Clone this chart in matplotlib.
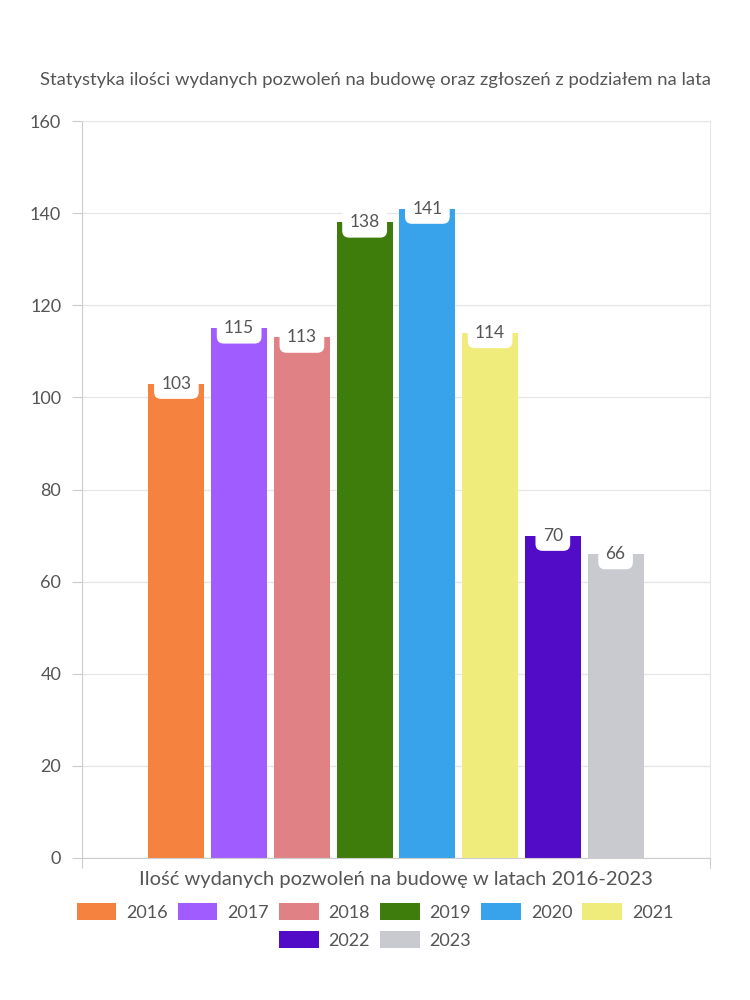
import matplotlib.pyplot as plt
from matplotlib.patches import Patch

years = ["2016", "2017", "2018", "2019", "2020", "2021", "2022", "2023"]
values = [103, 115, 113, 138, 141, 114, 70, 66]
colors = ["#F5833F", "#A05CFF", "#E08285", "#3E7D0B",
          "#38A2EA", "#F0EC7C", "#520BC6", "#C9CACF"]
yticks = [0, 20, 40, 60, 80, 100, 120, 140, 160]

title = "Statystyka ilości wydanych pozwoleń na budowę oraz zgłoszeń z podziałem na lata"
xlabel = "Ilość wydanych pozwoleń na budowę w latach 2016-2023"

plt.rcParams['font.family'] = ['Lato', 'DejaVu Sans']
txt = "#555555"
grid_c = "#e6e6e6"

fig = plt.figure(figsize=(7.5, 10), dpi=100)
ax = fig.add_axes([82/750, 1 - 858/1000, 628/750, 737/1000])

n = len(values)
slot = 0.0999
width = 0.0892
start = -slot * (n - 1) / 2
for i, (v, c) in enumerate(zip(values, colors)):
    x = start + i * slot
    ax.bar(x, v, width=width, color=c, zorder=2)

ax.set_xlim(-0.5, 0.5)
ax.set_ylim(0, 160)

# labels in white rounded boxes at the top of each bar
for i, v in enumerate(values):
    x = start + i * slot
    ax.text(x, v, str(v), ha='center', va='center', fontsize=12.5, color=txt, zorder=4,
            bbox=dict(boxstyle="round,pad=0.42,rounding_size=0.4", fc='white', ec='none'))

ax.set_yticks(yticks)
ax.set_yticklabels([str(t) for t in yticks], fontsize=13, color=txt)
ax.set_xticks([-0.5, 0.5])
ax.set_xticklabels(["", ""])
ax.tick_params(axis='y', length=7, color="#cccccc", pad=8)
ax.tick_params(axis='x', length=7, color="#cccccc")
ax.grid(axis='y', color=grid_c, linewidth=1, zorder=0)
ax.set_axisbelow(True)

for s in ['top', 'right']:
    ax.spines[s].set_color(grid_c)
for s in ['left', 'bottom']:
    ax.spines[s].set_color("#cccccc")

fig.text(375/750, 1 - 80/1000, title, ha='center', va='center', fontsize=13.3, color=txt)
fig.text(396/750, 1 - 880/1000, xlabel, ha='center', va='center', fontsize=14.5, color=txt)

handles = [Patch(facecolor=c, label=y) for y, c in zip(years, colors)]
leg_kw = dict(loc='center', frameon=False, fontsize=13, labelcolor=txt,
              handlelength=2.2, handleheight=1.0, columnspacing=0.55, handletextpad=0.55)
fig.legend(handles=handles[:6], bbox_to_anchor=(375/750, 1 - 912/1000), ncol=6, **leg_kw)
fig.legend(handles=handles[6:], bbox_to_anchor=(375/750, 1 - 940/1000), ncol=2, **leg_kw)

fig.savefig("out.png", dpi=100)
